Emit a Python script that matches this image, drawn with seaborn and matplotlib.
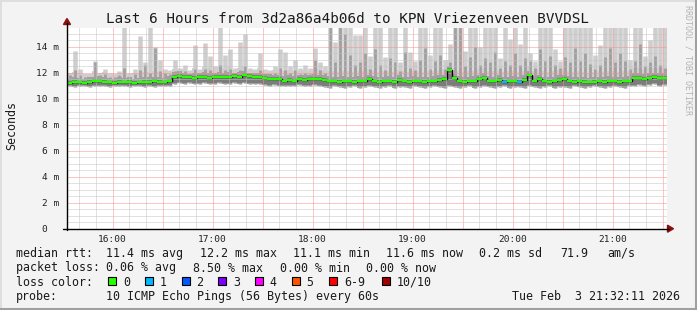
import numpy as np
import pandas as pd
import matplotlib
matplotlib.use("Agg")
import matplotlib.pyplot as plt
import seaborn as sns
from matplotlib.patches import Rectangle, Polygon
from matplotlib.lines import Line2D

# ---------------- data ----------------
title = "Last 6 Hours from 3d2a86a4b06d to KPN Vriezenveen BVVDSL"
first_sample_min = 32.6      # minutes after 15:00
step_min = 3
x_range = [32.6, 392.6]
hour_ticks = [60, 120, 180, 240, 300, 360]
hour_labels = ["16:00", "17:00", "18:00", "19:00", "20:00", "21:00"]
y_ticks = [0, 2, 4, 6, 8, 10, 12, 14]
y_tick_labels = ["0  ", "2 m", "4 m", "6 m", "8 m", "10 m", "12 m", "14 m"]
y_top = 15.44

median_ms = [11.2, 11.3, 11.25, 11.2, 11.3, 11.35, 11.4, 11.3, 11.25, 11.2, 11.3, 11.25, 11.3, 11.2, 11.25, 11.3, 11.3, 11.35, 11.3, 11.25, 11.4,
             11.7, 11.75, 11.65, 11.7, 11.6, 11.65, 11.7, 11.6, 11.65, 11.7, 11.65, 11.7, 11.75, 11.7, 11.8, 11.75, 11.7, 11.65,
             11.6, 11.55, 11.5, 11.5, 11.4, 11.45, 11.4, 11.5, 11.45, 11.5, 11.55, 11.5,
             11.45, 11.4, 11.35, 11.3, 11.4, 11.35, 11.3, 11.4, 11.35, 11.5, 11.4, 11.3, 11.35, 11.4, 11.3, 11.45, 11.35, 11.3, 11.4, 11.35, 11.3, 11.35, 11.4, 11.45,
             11.5, 12.2, 11.6,
             11.4, 11.3, 11.35, 11.4, 11.5, 11.6, 11.4, 11.35, 11.45, 11.3, 11.35, 11.4, 11.3, 11.45, 11.8, 11.4, 11.5, 11.35,
             11.3, 11.35, 11.45, 11.5, 11.4, 11.3, 11.35, 11.3, 11.25, 11.3, 11.35, 11.3, 11.4, 11.35, 11.3, 11.35, 11.4,
             11.6, 11.6, 11.55, 11.6, 11.65, 11.6, 11.6]

rtt_max = [11.9, 13.7, 12.3, 11.9, 11.8, 12.9,
           11.9, 12.3, 12.0, 11.9, 12.1,
           15.5, 12.0, 12.3, 14.8, 12.8, 15.5, 14.0, 13.0, 12.3, 12.2,
           13.0, 12.4, 12.6, 12.2, 14.1, 12.3, 14.3, 13.3, 12.5, 15.5,
           13.4, 13.8, 12.4, 14.4, 15.0, 12.4, 12.3, 13.5, 12.3, 12.2,
           12.5, 13.8, 13.6, 12.5, 13.0, 12.4, 12.6, 12.4, 13.9, 12.8,
           12.5, 15.5, 14.4, 15.5, 15.5, 15.5, 14.9, 14.9, 15.5, 13.3, 15.5,
           15.5, 13.2, 15.5, 15.5, 12.8, 15.5, 13.6, 12.9, 15.5, 15.5,
           13.4, 15.5, 15.5, 13.0, 14.2, 15.5, 15.5, 13.7, 15.5, 15.5,
           14.0, 15.5, 15.5, 15.5, 13.1, 15.5, 14.6, 15.5, 14.2, 15.5,
           13.5, 12.9, 15.5, 15.5, 15.5, 13.8, 12.9, 15.5, 15.5, 15.5,
           15.5, 15.5, 15.5, 13.4, 14.1, 15.5, 15.5, 15.5, 15.5, 15.5,
           13.0, 15.5, 15.5, 13.3, 14.5, 15.5, 15.5, 15.5]

rtt_high = [11.8, 12.2, 11.8, 11.7, 11.7, 12.8, 11.8, 11.9, 11.7, 11.7, 11.8,
            12.4, 11.7, 11.9, 12.2, 12.6, 12.0, 13.9, 12.1, 12.0, 11.9,
            12.1, 12.1, 12.1, 11.9, 12.3, 12.0, 12.3, 12.2, 12.0, 12.6,
            12.2, 12.3, 12.0, 12.2, 12.5, 12.0, 12.0, 12.2, 11.9, 11.9,
            12.0, 12.4, 12.2, 12.0, 12.2, 11.9, 12.0, 11.9, 13.0, 12.2,
            12.0, 15.5, 12.8, 15.5, 15.0, 13.4, 12.6, 12.8, 13.5, 12.3, 13.8,
            12.6, 12.2, 13.1, 12.8, 12.1, 13.6, 12.4, 12.2, 13.0, 13.9,
            12.3, 12.9, 13.4, 12.3, 12.8, 15.5, 15.5, 12.5, 13.2, 14.0,
            12.6, 13.1, 12.8, 13.6, 12.4, 12.9, 12.6, 13.5, 12.6, 13.1,
            12.9, 12.4, 13.8, 12.9, 13.3, 12.6, 12.4, 13.2, 12.8, 13.9,
            12.9, 13.5, 12.7, 12.3, 12.6, 13.2, 13.9, 12.8, 13.5, 12.9,
            12.3, 12.9, 14.2, 12.5, 12.8, 13.3, 12.6, 12.4]

rtt_min = [10.95, 10.9, 10.95, 11.0, 10.9, 10.95, 11.0, 10.95, 10.9, 10.95, 11.0, 10.95, 10.9, 10.95, 11.0, 10.9, 10.95, 10.9, 10.95, 11.0, 10.95,
           11.15, 11.2, 11.1, 11.2, 11.15, 11.1, 11.2, 11.15, 11.1, 11.2, 11.15, 11.1, 11.2, 11.15, 11.2, 11.1, 11.15, 11.1,
           11.05, 11.0, 11.05, 10.95, 11.0, 10.95, 11.0, 11.05, 10.95, 11.0, 11.05, 10.95,
           10.9, 10.85, 10.95, 10.9, 10.85, 10.9, 10.95, 10.85, 10.9, 10.95, 10.9, 10.85, 10.9, 10.95, 10.85, 10.9, 10.9, 10.85, 10.95, 10.9,
           10.85, 10.9, 10.95, 10.9, 10.85, 10.95, 10.9, 10.85, 10.9, 10.95, 10.85, 10.9, 10.95, 10.9, 10.85, 10.9, 10.95, 10.85, 10.9, 10.9,
           10.85, 10.95, 10.9, 10.85, 10.9, 10.95, 10.85, 10.9, 10.9, 10.85, 10.95, 10.9, 10.85, 10.9, 10.95, 10.9, 10.85, 10.9, 10.95, 10.9,
           10.85, 10.95, 11.0, 11.05, 11.0, 11.05, 11.1, 11.0, 11.05]

loss_pings = [0] * 87 + [1, 0, 0, 1] + [0] * 29

loss_labels = ["0", "1", "2", "3", "4", "5", "6-9", "10/10"]
loss_colors = ["#26ff00", "#00b8ff", "#0059ff", "#7e00ff", "#ff00ff", "#ff5500", "#ff0000", "#a10000"]

legend_rtt = ["11.4 ms avg", "12.2 ms max", "11.1 ms min", "11.6 ms now", "0.2 ms sd", "71.9", "am/s"]
legend_loss = ["0.06 % avg", "8.50 % max", "0.00 % min", "0.00 % now"]
probe_text = "10 ICMP Echo Pings (56 Bytes) every 60s"
date_text = "Tue Feb  3 21:32:11 2026"
credit = "RRDTOOL / TOBI OETIKER"

# ---------------- style ----------------
sns.set_style("white")
plt.rcParams['font.family'] = ['DejaVu Sans Mono', 'DejaVu Sans']

W, H = 697, 310
fig = plt.figure(figsize=(W / 100, H / 100), dpi=100)
fig.patch.set_facecolor('#f3f3f3')

def fx(x):
    return x / W

def fy(y):
    return 1 - y / H

L, R, T, B = 67, 667, 28, 228.7
ax = fig.add_axes([fx(L), fy(B), (R - L) / W, (B - T) / H])
ax.set_facecolor('white')

n = len(median_ms)
t = first_sample_min + step_min * np.arange(n)
t_edges = np.append(t, t[-1] + step_min)
t_mid = t + step_min / 2

def ext(a):
    a = np.asarray(a, dtype=float)
    return np.append(a, a[-1])

lo = np.asarray(rtt_min)
hi = np.asarray(rtt_high)
mx = np.asarray(rtt_max)
med = np.asarray(median_ms)

light = '#cecece'
mid = '#a0a0a0'
# light smoke: continuous band plus the outlier spikes
ax.fill_between(t_edges, ext(lo), ext(np.minimum(hi + 0.2, med + 0.75)), step='post', color=light, lw=0, zorder=1)
ax.vlines(t_mid, lo, mx, colors=light, linewidth=3.25, zorder=1.05)
# medium smoke: inner pings
ax.fill_between(t_edges, ext(lo), ext(np.minimum(hi, med + 0.35)), step='post', color=mid, lw=0, zorder=1.1)
ax.vlines(t_mid, lo, hi, colors=mid, linewidth=2.0, zorder=1.1)
ax.fill_between(t_edges, ext(lo + 0.08), ext(med + 0.15), step='post', color='#7c7c7c', lw=0, zorder=1.2)

df = pd.DataFrame({"t": t_edges, "median": ext(median_ms)})
sns.lineplot(data=df, x="t", y="median", drawstyle="steps-post", color="black",
             linewidth=1.0, ax=ax, zorder=2.7)

def loss_color(k):
    if k <= 5:
        return loss_colors[k]
    if k < 10:
        return loss_colors[6]
    return loss_colors[7]

seg_colors = [loss_color(k) for k in loss_pings]
ax.hlines(median_ms, t, t + step_min, colors=seg_colors, linewidth=1.7, zorder=2.8)

ax.set_xlim(*x_range)
ax.set_ylim(0, y_top)

# grid / ticks
half_hours = [h - 30 for h in hour_ticks] + hour_ticks + [hour_ticks[-1] + 30]
half_hours = sorted(v for v in half_hours if x_range[0] <= v <= x_range[1])
ax.set_xticks(half_hours)
ax.set_xticklabels([hour_labels[hour_ticks.index(v)] if v in hour_ticks else "" for v in half_hours])
ax.set_xticks(np.arange(40, 392, 10), minor=True)
ax.set_yticks(y_ticks)
ax.set_yticklabels(y_tick_labels)
ax.set_yticks(np.arange(0.5, 15.4, 0.5), minor=True)

ax.grid(which='major', color='#ff8c8c', linestyle=(0, (1, 1)), linewidth=0.72)
ax.grid(which='minor', color='#c4c4c4', linestyle=(0, (1, 1)), linewidth=0.72)
ax.set_axisbelow(False)

ax.tick_params(axis='both', which='both', direction='out', width=0.72, color='black',
               labelsize=6.8, labelcolor='#222222')
ax.tick_params(axis='x', which='major', length=1.5, pad=3.2)
ax.tick_params(axis='x', which='minor', length=1.5)
ax.tick_params(axis='y', which='major', length=2.2, pad=3.2)
ax.tick_params(axis='y', which='minor', length=0)
ax.set_xlabel("")
ax.set_ylabel("")
for s in ax.spines.values():
    s.set_visible(False)

# axis lines and arrows
fig.add_artist(Line2D([fx(L), fx(L)], [fy(B + 1), fy(23)], color='black', lw=1.0))
fig.add_artist(Line2D([fx(L - 4), fx(669)], [fy(B), fy(B)], color='black', lw=1.0))
arrow_c = '#8b1010'
fig.add_artist(Polygon([[fx(L - 3.5), fy(24.5)], [fx(L + 3.5), fy(24.5)], [fx(L), fy(18.5)]],
                       closed=True, color=arrow_c, transform=fig.transFigure))
fig.add_artist(Polygon([[fx(667.5), fy(B - 3.5)], [fx(667.5), fy(B + 3.5)], [fx(673.5), fy(B)]],
                       closed=True, color=arrow_c, transform=fig.transFigure))

# titles
txt = '#1a1a1a'
fig.text(fx(347.5), fy(23.3), title, ha='center', va='baseline', fontsize=10.26, color=txt)
fig.text(fx(11.5), fy(125.5), "Seconds", rotation=90, ha='center', va='center', fontsize=8.4, color=txt)
fig.text(fx(688), fy(60), credit, rotation=270, ha='center', va='center', fontsize=6.0, color='#b4b4b4')

# legend
fs = 8.37
base = [257.0, 271.5, 285.6, 299.6]
fig.text(fx(15.5), fy(base[0]), "median rtt:", fontsize=fs, va='baseline', color=txt)
for s, x in zip(legend_rtt, [107, 200.3, 293.5, 386.3, 479.2, 560.8, 607.5]):
    fig.text(fx(x - 0.5), fy(base[0]), s, fontsize=fs, va='baseline', color=txt)
fig.text(fx(15.5), fy(base[1]), "packet loss:", fontsize=fs, va='baseline', color=txt)
for s, x in zip(legend_loss, [107, 193.6, 280, 366.3]):
    fig.text(fx(x - 0.5), fy(base[1]), s, fontsize=fs, va='baseline', color=txt)
fig.text(fx(15.5), fy(base[2]), "loss color:", fontsize=fs, va='baseline', color=txt)
box_x = [108.3, 145, 181.7, 218.3, 255, 291.7, 329.3, 381.7]
for lab, col, x in zip(loss_labels, loss_colors, box_x):
    fig.add_artist(Rectangle((fx(x), fy(284.6)), 8.0 / W, 8.0 / H, facecolor=col, edgecolor='black',
                             lw=0.8, transform=fig.transFigure))
    fig.text(fx(x + 14.5), fy(base[2]), lab, fontsize=fs, va='baseline', color=txt)
fig.text(fx(15.5), fy(base[3]), "probe:", fontsize=fs, va='baseline', color=txt)
fig.text(fx(106.5), fy(base[3]), probe_text, fontsize=fs, va='baseline', color=txt)
fig.text(fx(680.5), fy(base[3]), date_text, fontsize=fs, va='baseline', ha='right', color=txt)

# figure border
fig.add_artist(Line2D([0, 1], [fy(0.5), fy(0.5)], color='#dedede', lw=1.4))
fig.add_artist(Line2D([fx(0.5), fx(0.5)], [0, 1], color='#dedede', lw=1.4))
fig.add_artist(Line2D([fx(695.5), fx(695.5)], [0, 1], color='#a0a0a0', lw=2.2))
fig.add_artist(Line2D([0, 1], [fy(308.5), fy(308.5)], color='#a0a0a0', lw=2.2))

fig.savefig("out.png", dpi=100, facecolor=fig.get_facecolor())
